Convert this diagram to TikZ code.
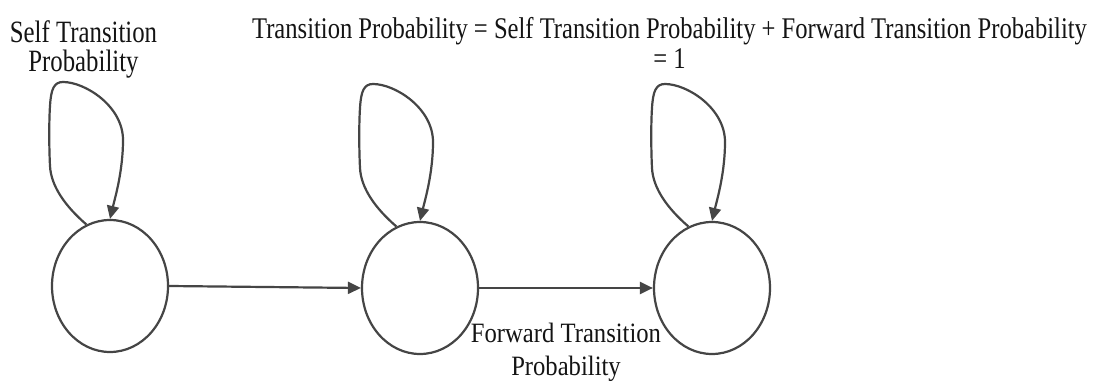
\documentclass[tikz,border=0pt]{standalone}
\usepackage{fontspec}
\usetikzlibrary{arrows.meta,shapes.geometric,calc}
\newfontfamily\lblA[FakeStretch=0.80]{Liberation Serif}
\newfontfamily\lblB[FakeStretch=0.88]{Liberation Serif}
\newfontfamily\lblC[FakeStretch=0.82]{Liberation Serif}
\definecolor{stroke}{HTML}{454545}
\definecolor{ink}{HTML}{141414}
\tikzset{
  state/.style={ellipse, draw=stroke, line width=2.2pt, minimum width=116pt, minimum height=132pt, inner sep=0pt},
  trans/.style={draw=stroke, line width=2.2pt, -{Triangle[length=13pt,width=12pt]}},
  lbl/.style={text=ink, align=center, inner sep=0pt, anchor=base}
}
\begin{document}
\begin{tikzpicture}[x=1pt,y=-1pt]
\useasboundingbox[fill=white] (0,0) rectangle (1097,382);
\node[state] (s1) at (110,286) {};
\node[state] (s2) at (420,288) {};
\node[state] (s3) at (712,288) {};
\draw[trans] (s1.east) -- (s2.west);
\draw[trans] (s2.east) -- (s3.west);
\foreach \n in {s1,s2,s3}{
  \draw[trans] (\n.111) .. controls ($(\n)+(-45,-80)$) and ($(\n)+(-59,-100)$) .. ($(\n)+(-60,-120)$)
    .. controls ($(\n)+(-61,-140)$) and ($(\n)+(-61,-165)$) .. ($(\n)+(-60,-180)$)
    .. controls ($(\n)+(-59,-197)$) and ($(\n)+(-56,-204)$) .. ($(\n)+(-47,-204)$)
    .. controls ($(\n)+(-25,-204)$) and ($(\n)+(13,-180)$) .. ($(\n)+(13,-146)$)
    .. controls ($(\n)+(13,-115)$) and ($(\n)+(5,-88)$) .. (\n.north);
}
\node[lbl, font=\lblA\fontsize{31}{29}\selectfont] (selflbl) at (83.5,72) {Self Transition\\Probability};
\node[lbl, font=\lblC\fontsize{30}{30}\selectfont] (toplbl) at (669.5,69) {Transition Probability = Self Transition Probability + Forward Transition Probability\\= 1};
\node[lbl, font=\lblB\fontsize{28}{33}\selectfont] (fwdlbl) at (566,375) {Forward Transition\\Probability};
\end{tikzpicture}
\end{document}
